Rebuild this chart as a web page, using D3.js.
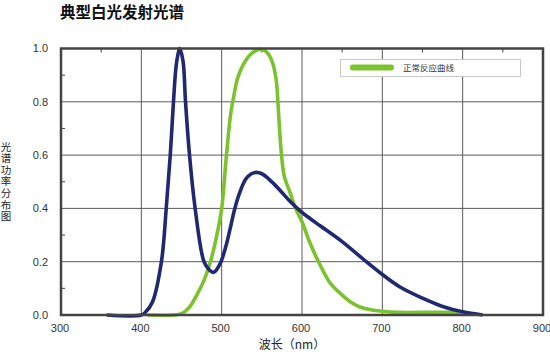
<!DOCTYPE html>
<html>
<head>
<meta charset="utf-8">
<script src="https://cdn.jsdelivr.net/npm/d3@7"></script>
<style>
  body { margin: 0; background: #fff; }
  svg { display: block; font-family: "Liberation Sans", "Noto Sans CJK SC", sans-serif; }
</style>
</head>
<body>
<svg id="chart" width="550" height="352"></svg>
<script>
// white LED emission spectrum (navy) and eye response curve (green)
const blueNm = [357, 400, 405, 414, 425, 431, 436, 440, 444, 448, 452, 455, 460, 467, 478, 485, 490, 498, 505, 511, 516, 522, 530, 537, 543, 550, 558, 565, 572, 585, 598, 610, 623, 648, 680, 700, 722, 750, 775, 800, 825];
const blueVal = [0, 0, 0.01, 0.05, 0.2, 0.4, 0.6, 0.8, 0.95, 1.0, 0.95, 0.8, 0.6, 0.4, 0.2, 0.168, 0.16, 0.192, 0.255, 0.33, 0.395, 0.455, 0.51, 0.53, 0.535, 0.53, 0.512, 0.492, 0.47, 0.427, 0.39, 0.362, 0.334, 0.28, 0.2, 0.152, 0.105, 0.063, 0.032, 0.012, 0];

const greenNm = [408, 450, 460, 469, 478, 486, 494, 500, 506, 511, 515, 520, 527, 535, 545, 552, 558, 564, 568, 570, 572, 574.5, 578, 585, 592, 600, 610, 623, 635, 648, 660, 672, 685, 700, 720, 760, 800];
const greenVal = [0, 0.005, 0.03, 0.075, 0.13, 0.2, 0.3, 0.4, 0.6, 0.75, 0.82, 0.89, 0.94, 0.975, 0.995, 0.995, 0.98, 0.94, 0.88, 0.8, 0.7, 0.6, 0.52, 0.46, 0.4, 0.35, 0.27, 0.185, 0.12, 0.08, 0.05, 0.03, 0.02, 0.014, 0.01, 0.01, 0.01];

const xTicks = [300, 400, 500, 600, 700, 800, 900];
const yTicks = [0, 0.2, 0.4, 0.6, 0.8, 1.0];
const yMinor = [0.1, 0.3, 0.5, 0.7, 0.9];
const xMinor = [350, 450, 550, 650, 750, 850];

const title = '典型白光发射光谱';
const yTitle = '光谱功率分布图';
const xTitle = '波长（nm）';
const legendLabel = '正常反应曲线';

const svg = d3.select('#chart');
const x = d3.scaleLinear().domain([300, 900]).range([61, 543]);
const y = d3.scaleLinear().domain([0, 1]).range([315, 48.5]);

const blue = blueNm.map((d, i) => [d, blueVal[i]]);
const green = greenNm.map((d, i) => [d, greenVal[i]]);

// grid
svg.append('g')
  .selectAll('line')
  .data(xTicks.slice(1, -1))
  .join('line')
  .attr('x1', (d) => x(d)).attr('x2', (d) => x(d))
  .attr('y1', y(0)).attr('y2', y(1))
  .attr('stroke', '#5a5a5a').attr('stroke-width', 1);

svg.append('g')
  .selectAll('line')
  .data(yTicks.slice(1, -1))
  .join('line')
  .attr('x1', x(300)).attr('x2', x(900))
  .attr('y1', (d) => y(d)).attr('y2', (d) => y(d))
  .attr('stroke', '#5a5a5a').attr('stroke-width', 1);

// minor ticks
svg.append('g')
  .selectAll('line')
  .data(yMinor)
  .join('line')
  .attr('x1', x(300)).attr('x2', x(300) + 4)
  .attr('y1', (d) => y(d)).attr('y2', (d) => y(d))
  .attr('stroke', '#444');

svg.append('g')
  .selectAll('line')
  .data(xMinor)
  .join('line')
  .attr('x1', (d) => x(d)).attr('x2', (d) => x(d))
  .attr('y1', y(1)).attr('y2', y(1) + 4)
  .attr('stroke', '#444');

// curves
const line = d3.line()
  .x((d) => x(d[0]))
  .y((d) => y(d[1]))
  .curve(d3.curveCatmullRom.alpha(0.5));

svg.append('path')
  .datum(green)
  .attr('d', line)
  .attr('fill', 'none')
  .attr('stroke', '#7cc22c')
  .attr('stroke-width', 3.6);

svg.append('path')
  .datum(blue)
  .attr('d', line)
  .attr('fill', 'none')
  .attr('stroke', '#1f2870')
  .attr('stroke-width', 3.6);

// frame
svg.append('rect')
  .attr('x', x(300)).attr('y', y(1))
  .attr('width', x(900) - x(300)).attr('height', y(0) - y(1))
  .attr('fill', 'none')
  .attr('stroke', '#444')
  .attr('stroke-width', 2.5);

// tick labels
svg.append('g')
  .selectAll('text')
  .data(yTicks)
  .join('text')
  .attr('x', 48)
  .attr('y', (d) => y(d))
  .attr('dy', '0.36em')
  .attr('text-anchor', 'end')
  .attr('font-size', 11)
  .attr('fill', '#333')
  .text((d) => d3.format('.1f')(d));

svg.append('g')
  .selectAll('text')
  .data(xTicks)
  .join('text')
  .attr('x', (d) => x(d) - 1)
  .attr('y', 332)
  .attr('text-anchor', 'middle')
  .attr('font-size', 11)
  .attr('fill', '#333')
  .text((d) => d);

// titles
svg.append('text')
  .attr('x', 60).attr('y', 18)
  .attr('font-size', 15.5)
  .attr('font-weight', 'bold')
  .attr('font-family', '"Noto Sans CJK SC", sans-serif')
  .attr('fill', '#111')
  .text(title);

svg.append('text')
  .attr('x', 292).attr('y', 349)
  .attr('text-anchor', 'middle')
  .attr('font-size', 12)
  .attr('font-family', '"Noto Sans CJK SC", sans-serif')
  .attr('fill', '#222')
  .text(xTitle);

svg.append('text')
  .attr('x', 6).attr('y', 182)
  .attr('text-anchor', 'middle')
  .attr('font-size', 10.5)
  .attr('letter-spacing', 1.1)
  .attr('font-family', '"Noto Sans CJK SC", sans-serif')
  .attr('fill', '#222')
  .style('writing-mode', 'vertical-rl')
  .text(yTitle);

// legend
const lg = svg.append('g');
lg.append('rect')
  .attr('x', 340.5).attr('y', 59.5)
  .attr('width', 180).attr('height', 17)
  .attr('fill', '#fff')
  .attr('stroke', '#c8c8c8');
lg.append('line')
  .attr('x1', 353).attr('x2', 391)
  .attr('y1', 67.5).attr('y2', 67.5)
  .attr('stroke', '#7cc22c')
  .attr('stroke-width', 6)
  .attr('stroke-linecap', 'round');
lg.append('text')
  .attr('x', 403).attr('y', 71)
  .attr('font-size', 8.5)
  .attr('font-family', '"Noto Sans CJK SC", sans-serif')
  .attr('fill', '#333')
  .text(legendLabel);
</script>
</body>
</html>
